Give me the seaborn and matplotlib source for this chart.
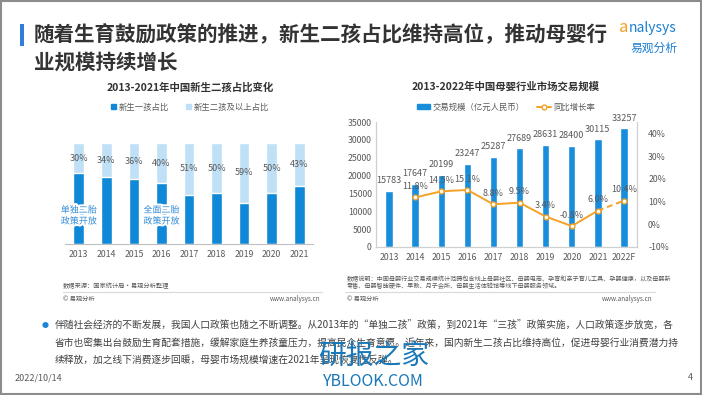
import numpy as np
import pandas as pd
import matplotlib
matplotlib.use('Agg')
import matplotlib.pyplot as plt
import matplotlib.patheffects as pe
from matplotlib.patches import Patch, Rectangle
from matplotlib.lines import Line2D
import seaborn as sns

# data: left chart (share of newborns, %)
birth_years = ['2013', '2014', '2015', '2016', '2017', '2018', '2019', '2020', '2021']
second_child_share = [30, 34, 36, 40, 51, 50, 59, 50, 43]
first_child_share = [100 - s for s in second_child_share]

# data: right chart (market size, 100M RMB, and yoy growth %)
market_years = ['2013', '2014', '2015', '2016', '2017', '2018', '2019', '2020', '2021', '2022F']
market_size = [15783, 17647, 20199, 23247, 25287, 27689, 28631, 28400, 30115, 33257]
growth_rate = [np.nan, 11.8, 14.5, 15.1, 8.8, 9.5, 3.4, -0.8, 6.0, 10.4]

DARK_BLUE = '#1088d8'
LIGHT_BLUE = '#bfe0f6'
ORANGE = '#f4a127'
GRAY = '#595959'
TITLE = '#333333'

sns.set_theme(style='white')
plt.rcParams['font.family'] = ['Noto Sans CJK SC', 'DejaVu Sans']
plt.rcParams['axes.unicode_minus'] = False

W, H = 702, 395
fig = plt.figure(figsize=(W / 100, H / 100), dpi=100)
fig.patch.set_facecolor('white')


def fx(x):
    return x / W


def fy(y):
    return 1 - y / H


# slide frame
fig.add_artist(Rectangle((0.001, 0.002), 0.997, 0.995, transform=fig.transFigure,
                         fill=False, edgecolor='#8c8c8c', linewidth=1.5))

# header
fig.add_artist(Rectangle((fx(20), fy(46)), fx(4), 22 / H, transform=fig.transFigure,
                         facecolor='#2f7fd6', edgecolor='none'))
fig.text(fx(34), fy(34), '随着生育鼓励政策的推进，新生二孩占比维持高位，推动母婴行',
         fontsize=14.8, fontweight='bold', color=TITLE, va='center')
fig.text(fx(34), fy(62), '业规模持续增长',
         fontsize=14.8, fontweight='bold', color=TITLE, va='center')
fig.text(fx(619), fy(28), 'a', fontsize=12, color=ORANGE, va='center', style='italic')
fig.text(fx(629), fy(28), 'nalysys', fontsize=10, color='#1c7fd0', va='center')
fig.text(fx(630), fy(48), '易观分析', fontsize=8.5, color='#1c7fd0', va='center')

# ---------------- left chart ----------------
ax1 = fig.add_axes([fx(65), fy(244), fx(313) - fx(65), 101 / H])
df1 = pd.DataFrame({'year': birth_years, 'first': first_child_share,
                    'second': second_child_share})
df1['total'] = df1['first'] + df1['second']
sns.barplot(data=df1, x='year', y='total', color=LIGHT_BLUE, width=0.39,
            saturation=1, ax=ax1)
sns.barplot(data=df1, x='year', y='first', color=DARK_BLUE, width=0.39,
            saturation=1, ax=ax1)
ax1.set_ylim(0, 100)
ax1.set_xlim(-0.5, len(birth_years) - 0.5)
for i, row in df1.iterrows():
    ax1.text(i, row['first'] + row['second'] / 2, f"{row['second']}%",
             ha='center', va='center', fontsize=6.5, color=GRAY)
glow = [pe.withStroke(linewidth=3, foreground='white')]
for i, lab in [(0, '单独二胎\n政策开放'), (3, '全面二胎\n政策开放')]:
    ax1.text(i, 28, lab, ha='center', va='center', fontsize=6.5, color='#2f8ad6',
             linespacing=1.3, path_effects=glow)
ax1.set_xlabel('')
ax1.set_ylabel('')
ax1.set_yticks([])
ax1.tick_params(axis='x', labelsize=6.3, colors=GRAY, length=0, pad=4)
for s in ['top', 'left', 'right']:
    ax1.spines[s].set_visible(False)
ax1.spines['bottom'].set_color('#bfbfbf')
ax1.spines['bottom'].set_linewidth(0.8)
ax1.legend(handles=[Patch(color=DARK_BLUE, label='新生一孩占比'),
                    Patch(color=LIGHT_BLUE, label='新生二孩及以上占比')],
           loc='center', bbox_to_anchor=(fx(190), fy(107)),
           bbox_transform=fig.transFigure, ncol=2, frameon=False, fontsize=6,
           handlelength=0.6, handleheight=0.6, columnspacing=2.0, handletextpad=0.4,
           labelcolor=GRAY)
fig.text(fx(190), fy(87), '2013-2021年中国新生二孩占比变化', ha='center', va='center',
         fontsize=7.5, fontweight='bold', color=TITLE)
fig.text(fx(63), fy(286), '数据来源：国家统计局·易观分析整理', fontsize=4.5, color=GRAY, va='center')
fig.add_artist(Line2D([fx(63), fx(322)], [fy(292), fy(292)], color='#d9d9d9', lw=0.8))
fig.text(fx(63), fy(299), '© 易观分析', fontsize=4.5, color=GRAY, va='center')
fig.text(fx(320), fy(299), 'www.analysys.cn', fontsize=4.5, color=GRAY, va='center', ha='right')

# ---------------- right chart ----------------
ax2 = fig.add_axes([fx(376), fy(247), fx(637) - fx(376), 125 / H])
df2 = pd.DataFrame({'year': market_years, 'size': market_size, 'growth': growth_rate})
sns.barplot(data=df2, x='year', y='size', color='#178ddb', width=0.28,
            saturation=1, ax=ax2)
ax2.set_ylim(0, 35000)
ax2.set_xlim(-0.5, len(market_years) - 0.5)
ax2.set_yticks(np.arange(0, 35001, 5000))
ax2.bar_label(ax2.containers[0], padding=4, fontsize=6.5, color=GRAY)
ax2.set_xlabel('')
ax2.set_ylabel('')
ax2.tick_params(axis='x', labelsize=6.3, colors=GRAY, length=0, pad=4)
ax2.tick_params(axis='y', labelsize=6.3, colors=GRAY, length=0, pad=3)

ax3 = ax2.twinx()
pos = np.arange(len(market_years))
g = df2['growth'].to_numpy()
sns.lineplot(x=pos[1:9], y=g[1:9], color=ORANGE, linewidth=1.4, ax=ax3)
ax3.plot(pos[8:10], g[8:10], color=ORANGE, linewidth=1.4, linestyle=(0, (3, 2)))
ax3.plot(pos[1:], g[1:], linestyle='none', marker='o', markersize=3.5,
         markerfacecolor='white', markeredgecolor=ORANGE, markeredgewidth=1)
for i in pos[1:]:
    ax3.text(i, g[i] + 4.8, f'{g[i]:.1f}%', ha='center', va='center',
             fontsize=6.5, color=GRAY)
ax3.set_ylim(-10, 45)
ax3.set_yticks(np.arange(-10, 41, 10))
ax3.set_yticklabels([f'{v}%' for v in range(-10, 41, 10)])
ax3.tick_params(axis='y', labelsize=6.3, colors=GRAY, length=0, pad=8)
ax3.set_ylabel('')
for a in (ax2, ax3):
    a.spines['top'].set_visible(False)
    for s in ['left', 'right', 'bottom']:
        a.spines[s].set_color('#d0d0d0')
        a.spines[s].set_linewidth(0.8)

ax2.legend(handles=[Patch(color='#178ddb', label='交易规模（亿元人民币）'),
                    Line2D([], [], color=ORANGE, lw=1.4, marker='o', markersize=3.5,
                           markerfacecolor='white', label='同比增长率')],
           loc='center', bbox_to_anchor=(fx(506), fy(107)),
           bbox_transform=fig.transFigure, ncol=2, frameon=False, fontsize=6,
           handlelength=1.6, handleheight=0.6, columnspacing=1.5, handletextpad=0.3,
           labelcolor=GRAY)
fig.text(fx(506), fy(87), '2013-2022年中国母婴行业市场交易规模', ha='center', va='center',
         fontsize=7.5, fontweight='bold', color=TITLE)
fig.text(fx(347), fy(279), '数据说明：中国母婴行业交易规模统计范畴包含线上母婴社区、母婴电商、孕育和亲子育儿工具、孕婴健康，以及母婴新',
         fontsize=4.4, color=GRAY, va='center')
fig.text(fx(347), fy(286), '零售、母婴智能硬件、早教、月子会所、母婴生活体验馆等线下母婴服务领域。',
         fontsize=4.4, color=GRAY, va='center')
fig.add_artist(Line2D([fx(345), fx(655)], [fy(292), fy(292)], color='#d9d9d9', lw=0.8))
fig.text(fx(347), fy(299), '© 易观分析', fontsize=4.5, color=GRAY, va='center')
fig.text(fx(652), fy(299), 'www.analysys.cn', fontsize=4.5, color=GRAY, va='center', ha='right')

# ---------------- bottom text ----------------
fig.text(fx(45), fy(326), '●', fontsize=5, color='#1c86d6', va='center', ha='center')
body = ['伴随社会经济的不断发展，我国人口政策也随之不断调整。从2013年的“单独二孩”政策，到2021年“三孩”政策实施，人口政策逐步放宽，各',
        '省市也密集出台鼓励生育配套措施，缓解家庭生养孩童压力，提高民众生育意愿。近年来，国内新生二孩占比维持高位，促进母婴行业消费潜力持',
        '续释放，加之线下消费逐步回暖，母婴市场规模增速在2021年呈现恢复性反弹。']
for k, line in enumerate(body):
    fig.text(fx(55), fy(326 + 17 * k), line, fontsize=7.0, color='#404040', va='center')
fig.text(fx(15), fy(378), '2022/10/14', fontsize=6.5, color=GRAY, va='center')
fig.text(fx(688), fy(378), '4', fontsize=6.5, color=GRAY, va='center')

# third-party watermark
fig.text(fx(318), fy(356), '研报之家', fontsize=20, color='#1a78b8', va='center')
fig.text(fx(322), fy(381), 'YBLOOK.COM', fontsize=11.5, color='#1a78b8', va='center')

fig.savefig('out.png', dpi=100, facecolor='white')
